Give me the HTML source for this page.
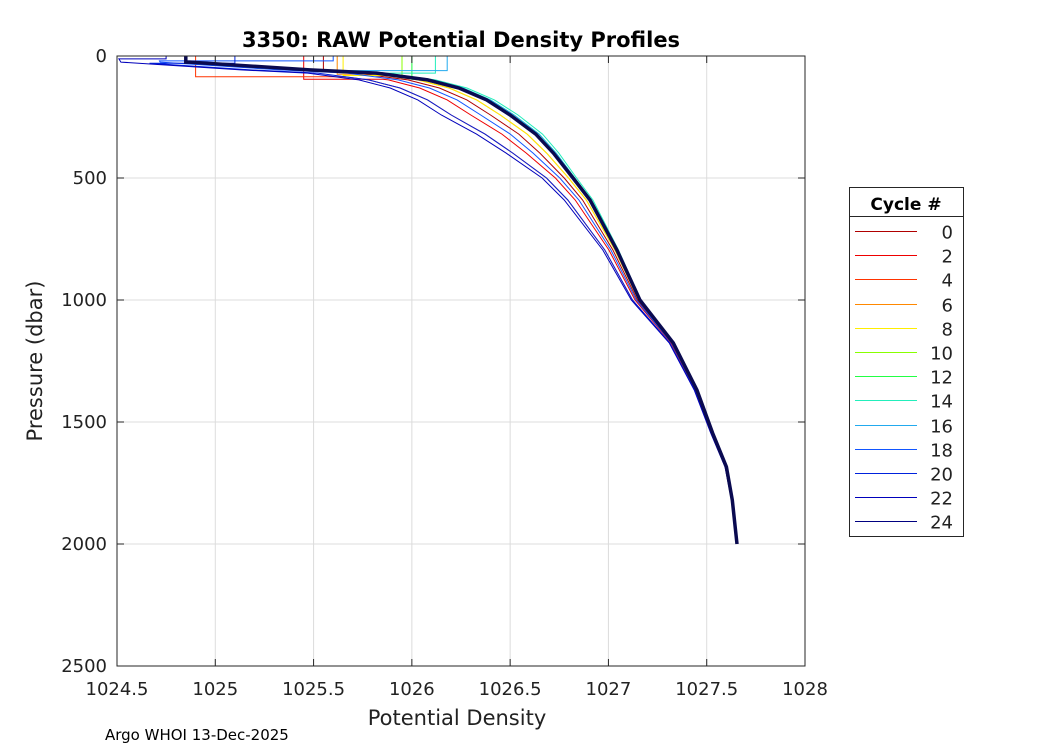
<!DOCTYPE html>
<html><head><meta charset="utf-8"><style>
body{margin:0;background:#fff;}
svg text{font-family:"DejaVu Sans","Liberation Sans",sans-serif;fill:#222;}
</style></head><body>
<svg id="chart" width="1050" height="750" xmlns="http://www.w3.org/2000/svg">
<rect width="1050" height="750" fill="#fff"/>
<g id="grid"></g>
<g id="lines"></g>
<rect x="117" y="56" width="688" height="610" fill="none" stroke="#262626" stroke-width="1"/>
<g id="ticks"></g>
<text x="461" y="47" text-anchor="middle" font-size="21" font-weight="bold" style="fill:#000">3350: RAW Potential Density Profiles</text>
<text x="457" y="725" text-anchor="middle" font-size="21">Potential Density</text>
<text transform="translate(42,361) rotate(-90)" text-anchor="middle" font-size="21">Pressure (dbar)</text>
<text x="105" y="740" font-size="15" style="fill:#000">Argo WHOI 13-Dec-2025</text>
<g id="legend">
<rect x="849.5" y="187.5" width="114" height="349" fill="#fff" stroke="#262626"/>
<line x1="849.5" y1="216.5" x2="963.5" y2="216.5" stroke="#262626"/>
<text x="906" y="210" text-anchor="middle" font-size="17" font-weight="bold" style="fill:#000">Cycle #</text>
</g>
</svg>
<script>
const xTicks=[1024.5,1025,1025.5,1026,1026.5,1027,1027.5,1028];
const yTicks=[0,500,1000,1500,2000,2500];
const basePres=[0,25,57,70,98,131,180,242,320,398,500,590,795,1000,1176,1369,1545,1684,1820,2000];
const baseDens=[1024.85,1024.87,1025.48,1025.82,1026.08,1026.24,1026.38,1026.50,1026.63,1026.72,1026.82,1026.906,1027.043,1027.16,1027.33,1027.45,1027.53,1027.60,1027.63,1027.654];
const weightPres=[0,100,250,350,500,800,1200,2000];
const weightVal=[1,1,1,0.8,0.45,0.2,0.05,0];
const cycles=[0,2,4,6,8,10,12,14,16,18,20,22,24];
const surfDens=[1025.55,1025.45,1024.9,1025.62,1025.65,1025.95,1026.0,1026.12,1026.18,1025.6,1025.1,1024.75,1024.85];
const mldPres=[60,95,85,75,80,90,95,70,60,20,30,12,25];
const shift=[-0.1,-0.2,-0.3,-0.05,-0.05,0,0.02,0.04,0.02,-0.15,-0.3,-0.35,0];
const colors=["#b00000","#ee0000","#ff3300","#ff8800","#ffee00","#88ff00","#22ff44","#22eebb","#22aaee","#1155ff","#0022dd","#0000bb","#000080"];
const X=d=>117+(d-1024.5)/3.5*688;
const Y=p=>56+p/2500*610;
const NS="http://www.w3.org/2000/svg";
function mk(tag,attrs,parent){const e=document.createElementNS(NS,tag);for(const k in attrs)e.setAttribute(k,attrs[k]);parent.appendChild(e);return e;}
function interp(xs,ys,x){if(x<=xs[0])return ys[0];for(let i=1;i<xs.length;i++){if(x<=xs[i]){const t=(x-xs[i-1])/(xs[i]-xs[i-1]);return ys[i-1]+t*(ys[i]-ys[i-1]);}}return ys[ys.length-1];}
const grid=document.getElementById('grid'),ticks=document.getElementById('ticks');
xTicks.forEach(v=>{
 const gl=mk('line',{x1:X(v),x2:X(v),y1:56,y2:666,stroke:'#dcdcdc'},grid);
 
 mk('line',{x1:X(v),x2:X(v),y1:666,y2:659,stroke:'#262626'},ticks);
 mk('line',{x1:X(v),x2:X(v),y1:56,y2:63,stroke:'#262626'},ticks);
 const t=mk('text',{x:X(v),y:695,'text-anchor':'middle','font-size':18},ticks);t.textContent=v;
 
});
yTicks.forEach(v=>{
 const gl=mk('line',{x1:117,x2:805,y1:Y(v),y2:Y(v),stroke:'#dcdcdc'},grid);
 
 mk('line',{x1:117,x2:124,y1:Y(v),y2:Y(v),stroke:'#262626'},ticks);
 mk('line',{x1:805,x2:798,y1:Y(v),y2:Y(v),stroke:'#262626'},ticks);
 const t=mk('text',{x:107,y:Y(v)+6,'text-anchor':'end','font-size':18},ticks);t.textContent=v;
 
});
const lines=document.getElementById('lines');
cycles.forEach((c,i)=>{
 const pts=[[surfDens[i],0],[surfDens[i],mldPres[i]]];
 const ps=basePres.filter(p=>p>mldPres[i]);
 [mldPres[i]].concat(ps).forEach(p=>{
   const d=interp(basePres,baseDens,p)+shift[i]*interp(weightPres,weightVal,p);
   pts.push([d,p]);
 });
 const thick=i===cycles.length-1;
 const pl=mk('polyline',{points:pts.map(q=>X(q[0]).toFixed(1)+','+Y(q[1]).toFixed(1)).join(' '),fill:'none',stroke:thick?'#0a0a50':colors[i],'stroke-width':thick?3.5:1},lines);
 
 
});
const leg=document.getElementById('legend');
cycles.forEach((c,i)=>{
 const y=Math.round(231+i*24.2)+0.5;
 const l=mk('line',{x1:855,x2:917,y1:y,y2:y,stroke:colors[i],'stroke-width':1},leg);
 
 const t=mk('text',{x:953,y:y+7,'text-anchor':'end','font-size':18},leg);t.textContent=c;
 
});
</script>
</body></html>
